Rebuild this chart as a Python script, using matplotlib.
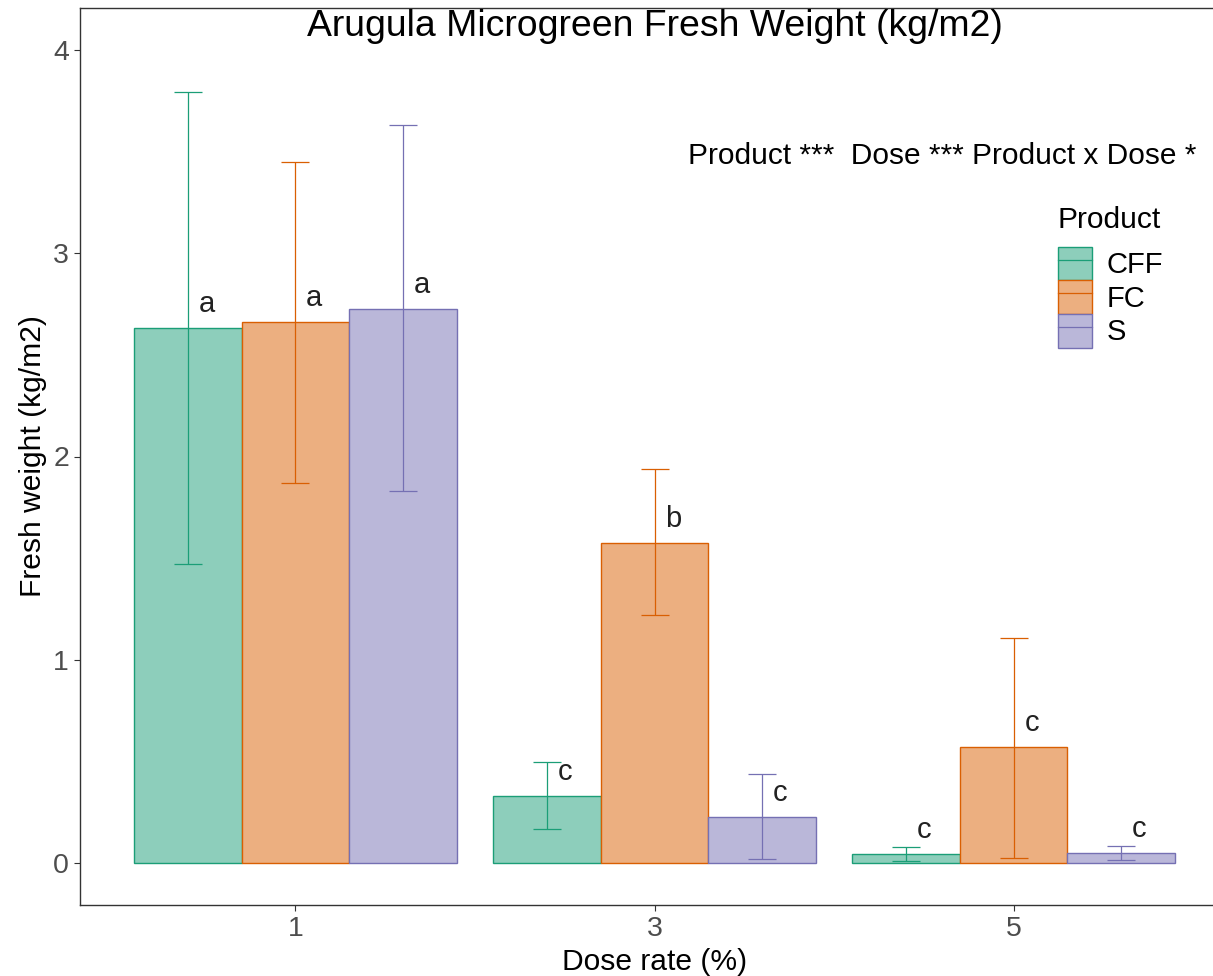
#!/usr/bin/env python3

# arugula_fresh_weight.py

import matplotlib
matplotlib.use('Agg')
import matplotlib.pyplot as plt
from matplotlib.patches import Patch
from matplotlib.lines import Line2D
import numpy as np

plt.rcParams['font.family'] = ['Liberation Sans', 'DejaVu Sans']

doses = ['1', '3', '5']
products = ['CFF', 'FC', 'S']

# mean fresh weight per product, in dose order
mean_cff = [2.63, 0.33, 0.045]
mean_fc = [2.66, 1.575, 0.57]
mean_s = [2.725, 0.228, 0.05]

# error bar limits (lower, upper)
low_cff = [1.47, 0.17, 0.01]
high_cff = [3.79, 0.50, 0.08]
low_fc = [1.87, 1.22, 0.026]
high_fc = [3.45, 1.94, 1.11]
low_s = [1.83, 0.022, 0.015]
high_s = [3.63, 0.44, 0.085]

# mean separation letters
letters_cff = ['a', 'c', 'c']
letters_fc = ['a', 'b', 'c']
letters_s = ['a', 'c', 'c']

edge_colors = ['#1B9E77', '#D95F02', '#7570B3']
fill_colors = ['#8DCEBB', '#ECAF80', '#BAB7D9']

series = [
    (mean_cff, low_cff, high_cff, letters_cff),
    (mean_fc, low_fc, high_fc, letters_fc),
    (mean_s, low_s, high_s, letters_s),
]


def main():
    fig = plt.figure(figsize=(12.13, 9.76), dpi=100)
    W, H = 1213, 976
    ax = fig.add_axes([80 / W, 1 - 905 / H, (1229 - 80) / W, (905 - 8) / H])

    x = np.arange(1, len(doses) + 1)
    width = 0.3
    for i, (means, lows, highs, letters) in enumerate(series):
        pos = x + (i - 1) * width
        means = np.array(means)
        ax.bar(pos, means, width=width, color=fill_colors[i],
               edgecolor=edge_colors[i], linewidth=1.0, zorder=2)
        yerr = [means - np.array(lows), np.array(highs) - means]
        ax.errorbar(pos, means, yerr=yerr, fmt='none', ecolor=edge_colors[i],
                    elinewidth=0.9, capsize=10.4, capthick=0.9, zorder=3)
        for px, m, lab in zip(pos, means, letters):
            ax.text(px + 0.03, m + 0.08, lab, ha='left', va='baseline',
                    fontsize=21, color='#222222', zorder=4)

    ax.text(2, 4.065, 'Arugula Microgreen Fresh Weight (kg/m2)', ha='center',
            va='baseline', fontsize=26.9, color='black')
    ax.text(2.8, 3.44, 'Product ***  Dose *** Product x Dose *', ha='center',
            va='baseline', fontsize=21.5, color='black')

    ax.set_xlim(0.4, 3.6)
    ax.set_ylim(-0.205, 4.205)
    ax.set_xticks(x)
    ax.set_xticklabels(doses)
    ax.set_yticks([0, 1, 2, 3, 4])
    ax.tick_params(axis='both', length=4, width=0.8, color='#333333',
                   labelcolor='#4D4D4D', labelsize=20.5, pad=4)
    for sp in ax.spines.values():
        sp.set_color('#333333')
        sp.set_linewidth(1.0)

    ax.set_xlabel('Dose rate (%)', fontsize=21.6, color='black', labelpad=4)
    ax.set_ylabel('Fresh weight (kg/m2)', fontsize=21.6, color='black',
                  labelpad=4)

    handles = [(Patch(facecolor=fill_colors[i], edgecolor=edge_colors[i], linewidth=1.0),
                Line2D([], [], color=edge_colors[i], linewidth=0.9))
               for i in range(3)]
    leg = fig.legend(handles, products, title='Product', loc='upper left',
                     bbox_to_anchor=(1058 / W, 1 - 206 / H), frameon=False,
                     fontsize=21, title_fontsize=21.6, handlelength=1.16,
                     handleheight=1.40, labelspacing=0, handletextpad=0.5,
                     borderpad=0, borderaxespad=0, alignment='left')
    # gap between the legend title and the keys
    leg._legend_box.sep = 9

    fig.savefig('out.png', dpi=100)


if __name__ == '__main__':
    main()
